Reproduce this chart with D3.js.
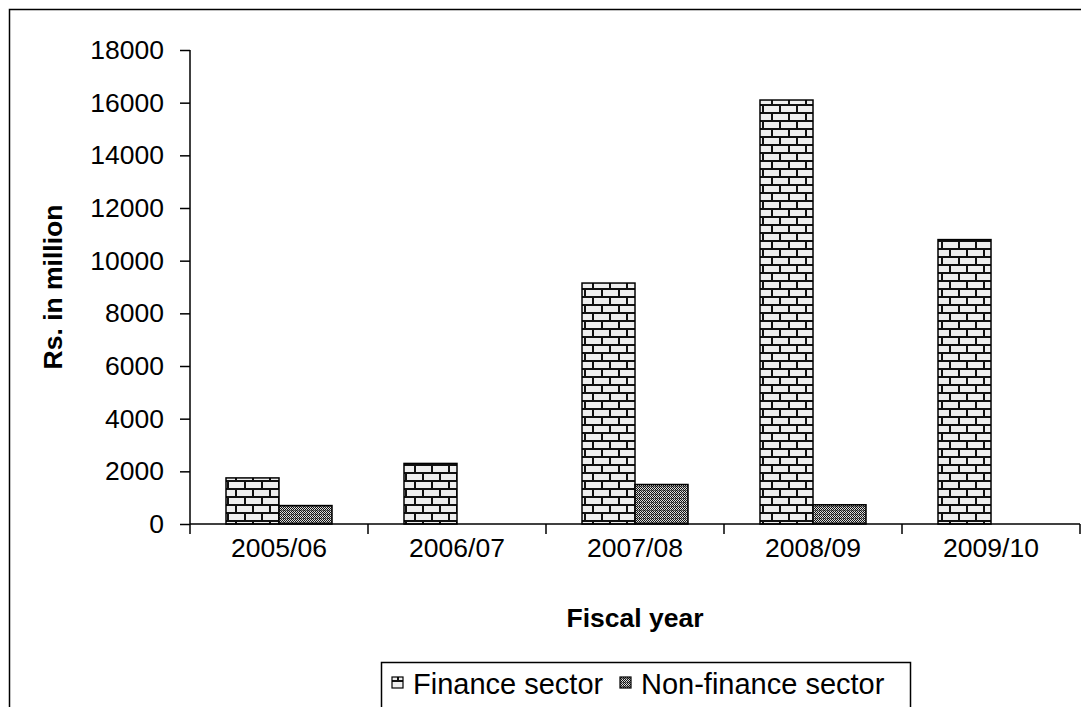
<!DOCTYPE html>
<html><head><meta charset="utf-8">
<script src="https://cdn.jsdelivr.net/npm/d3@7"></script>
<style>body{margin:0;background:#fff}svg{display:block}text{font-family:"Liberation Sans",Arial,sans-serif}</style>
</head><body>
<svg id="c" width="1081" height="707"></svg>
<script>
const categories = ["2005/06","2006/07","2007/08","2008/09","2009/10"];
const seriesNames = ["Finance sector","Non-finance sector"];
const finance = [1750, 2300, 9150, 16100, 10800];
const nonFinance = [700, 0, 1500, 730, 0];
const yTicks = [0,2000,4000,6000,8000,10000,12000,14000,16000,18000];

const FS = 26.5;
const svg = d3.select("#c");
const defs = svg.append("defs");
// brick pattern
const pb = defs.append("pattern").attr("id","brick").attr("patternUnits","userSpaceOnUse")
  .attr("width",17).attr("height",16).attr("x",227).attr("y",0);
pb.append("rect").attr("width",17).attr("height",16).attr("fill","#efefef");
pb.append("rect").attr("x",0).attr("y",0).attr("width",17).attr("height",2).attr("fill","#111");
pb.append("rect").attr("x",0).attr("y",8).attr("width",17).attr("height",2).attr("fill","#111");
pb.append("rect").attr("x",0).attr("y",0).attr("width",2).attr("height",8).attr("fill","#111");
pb.append("rect").attr("x",8).attr("y",8).attr("width",2).attr("height",8).attr("fill","#111");
// dotted pattern
const pd = defs.append("pattern").attr("id","dots").attr("patternUnits","userSpaceOnUse")
  .attr("width",4).attr("height",4);
pd.append("rect").attr("width",4).attr("height",4).attr("fill","#ddd");
[[0,0,"#111"],[2,0,"#111"],[1,1,"#111"],[3,1,"#111"],[0,2,"#111"],[2,2,"#444"],[1,3,"#111"],[3,3,"#111"],[1,2,"#888"],[3,2,"#666"]]
  .forEach(p=>pd.append("rect").attr("x",p[0]).attr("y",p[1]).attr("width",1).attr("height",1).attr("fill",p[2]));

// outer border
svg.append("rect").attr("x",9.5).attr("y",9.5).attr("width",1100).attr("height",720)
  .attr("fill","none").attr("stroke","#000").attr("stroke-width",1.5);

const pLeft=190, pRight=1080, pTop=50, pBottom=524;
const x = d3.scaleBand().domain(categories).range([pLeft,pRight]).paddingInner(0).paddingOuter(0);
const x1 = d3.scaleBand().domain(seriesNames).range([36, x.bandwidth()-36]);
const y = d3.scaleLinear().domain([0,18000]).range([pBottom,pTop]);

// bars
const fills = {"Finance sector":"url(#brick)","Non-finance sector":"url(#dots)"};
const data = [];
categories.forEach((c,i)=>{
  data.push({c, s:"Finance sector", v:finance[i]});
  data.push({c, s:"Non-finance sector", v:nonFinance[i]});
});
svg.append("g").selectAll("rect").data(data.filter(d=>d.v>0)).join("rect")
  .attr("x",d=>x(d.c)+x1(d.s)).attr("width",x1.bandwidth())
  .attr("y",d=>y(d.v)).attr("height",d=>pBottom-y(d.v))
  .attr("fill",d=>fills[d.s]).attr("stroke","#000").attr("stroke-width",1.5);

// y axis
const ya = svg.append("g").attr("transform",`translate(${pLeft},0)`)
  .call(d3.axisLeft(y).tickValues(yTicks).tickSize(10).tickPadding(16).tickFormat(d3.format("d")));
ya.select(".domain").attr("stroke","#000").attr("stroke-width",1.5).attr("d",`M0,${pTop}V${pBottom}`);
ya.selectAll(".tick line").attr("stroke","#000").attr("stroke-width",1.5);
ya.selectAll(".tick text").attr("font-size",FS).attr("fill","#000")
  .attr("font-family","Liberation Sans, Arial, sans-serif");

// x axis
const xa = svg.append("g").attr("transform",`translate(0,${pBottom})`)
  .call(d3.axisBottom(x).tickSize(0).tickPadding(14));
xa.select(".domain").attr("stroke","#000").attr("stroke-width",1.5).attr("d",`M${pLeft},0H${pRight}`);
xa.selectAll(".tick text").attr("font-size",FS).attr("fill","#000")
  .attr("font-family","Liberation Sans, Arial, sans-serif");
const bounds = categories.map(c=>x(c)).concat([pRight]);
xa.append("g").selectAll("line").data(bounds).join("line")
  .attr("x1",d=>d).attr("x2",d=>d).attr("y1",0).attr("y2",10)
  .attr("stroke","#000").attr("stroke-width",1.5);

// axis titles
svg.append("text").attr("x",(pLeft+pRight)/2).attr("y",627).attr("text-anchor","middle")
  .attr("font-size",FS).attr("font-weight","bold").text("Fiscal year");
svg.append("text").attr("transform",`translate(62,${(pTop+pBottom)/2}) rotate(-90)`)
  .attr("text-anchor","middle").attr("font-size",FS).attr("font-weight","bold").text("Rs. in million");

// legend
const lg = svg.append("g");
lg.append("rect").attr("x",381.5).attr("y",662.5).attr("width",529).attr("height",80)
  .attr("fill","#fff").attr("stroke","#000").attr("stroke-width",1.5);
const legItems = [{s:seriesNames[0], x:392},{s:seriesNames[1], x:620}];
legItems.forEach(it=>{
  lg.append("rect").attr("x",it.x).attr("y",677).attr("width",11).attr("height",11)
    .attr("fill",fills[it.s]).attr("stroke","#000").attr("stroke-width",1.2);
  lg.append("text").attr("x",it.x+21).attr("y",694).attr("font-size",29).text(it.s);
});
</script>
</body></html>
